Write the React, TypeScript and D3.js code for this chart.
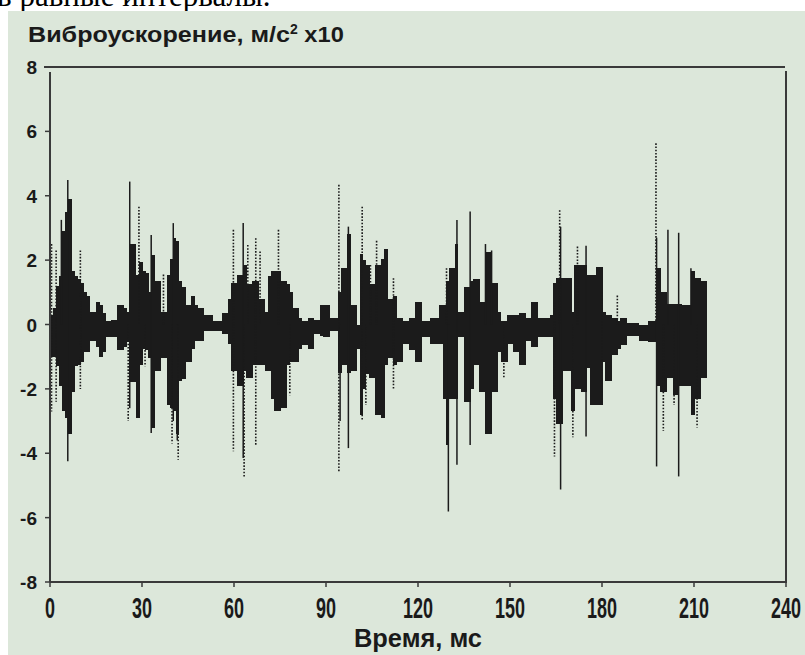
import React from "react";
import * as d3 from "d3";

const caption = "в равные интервалы.";
const yTitle = "Виброускорение, м/с";
const xTitle = "Время, мс";
const xTicks = [0, 30, 60, 90, 120, 150, 180, 210, 240];
const yTicks = [8, 6, 4, 2, 0, -2, -4, -6, -8];

// dense part of the signal, one entry per ms (upper / lower edge)
const coreHi = [
  0.3, 0.5, 1.2, 1.5, 2.9, 3.5, 3.9, 1.65, 1.5, 1.4,
  1.3, 1.0, 0.9, 0.4, 0.4, 0.7, 0.6, 0.35, 0.1, 0.1,
  0.15, 0.15, 0.6, 0.6, 0.5, 0.4, 2.5, 2.5, 1.55, 1.95,
  1.65, 1.6, 1.0, 2.15, 1.35, 1.35, 0.4, 0.4, 1.55, 2.05,
  2.7, 2.6, 1.35, 1.15, 0.6, 0.6, 0.9, 0.6, 0.5, 0.5,
  0.3, 0.3, 0.3, 0.1, 0.1, 0.1, 0.35, 0.35, 0.8, 1.3,
  1.3, 1.55, 1.55, 1.85, 1.25, 1.25, 1.35, 1.35, 0.8, 0.8,
  0.4, 1.5, 1.65, 1.65, 1.65, 1.35, 1.35, 1.25, 1.0, 0.5,
  0.5, 0.2, 0.1, 0.1, 0.2, 0.2, 0.15, 0.15, 0.6, 0.6,
  0.6, 0.2, 0.2, 0.2, 1.0, 1.75, 1.75, 2.8, 0.6, 0.6,
  0.0, 2.2, 2.0, 1.85, 1.25, 1.25, 1.85, 1.85, 2.05, 2.35,
  0.8, 0.8, 0.9, 0.2, 0.2, 0.1, 0.1, 0.2, 0.2, 0.7,
  0.7, 0.1, 0.1, 0.1, 0.2, 0.2, 0.2, 0.6, 0.6, 1.35,
  1.75, 1.75, 2.5, 0.4, 0.4, 1.15, 1.15, 1.35, 1.4, 1.4,
  0.7, 0.7, 2.25, 2.25, 1.3, 1.3, 0.4, 0.1, 0.1, 0.3,
  0.3, 0.3, 0.3, 0.35, 0.35, 0.2, 0.2, 0.7, 0.7, 0.2,
  0.2, 0.2, 0.2, 0.3, 1.3, 1.45, 1.45, 1.45, 1.45, 1.45,
  0.4, 1.85, 1.85, 1.85, 1.85, 1.55, 1.55, 1.55, 1.8, 1.8,
  0.4, 0.3, 0.3, 0.2, 0.2, 0.1, 0.2, 0.2, 0.05, 0.05,
  0.05, 0.05, 0.0, 0.0, 0.0, 0.1, 0.1, 0.1, 1.75, 1.0,
  1.0, 0.65, 0.65, 0.65, 0.65, 0.65, 0.6, 0.6, 0.6, 1.65,
  1.45, 1.45, 1.35, 1.35
];
const coreLo = [
  -1.0, -1.0, -1.3, -1.9, -2.7, -2.9, -3.4, -2.1, -1.3, -1.25,
  -1.15, -0.85, -0.85, -0.5, -0.5, -0.7, -1.0, -0.85, -0.4, -0.4,
  -0.4, -0.4, -0.8, -0.8, -0.7, -0.55, -1.8, -1.8, -2.9, -1.25,
  -0.75, -0.8, -1.05, -3.2, -1.45, -1.45, -1.05, -1.05, -2.5, -2.6,
  -2.7, -3.4, -1.75, -1.7, -1.15, -1.15, -0.75, -0.5, -0.5, -0.5,
  -0.2, -0.2, -0.2, -0.2, -0.2, -0.2, -0.3, -0.3, -0.6, -1.45,
  -1.45, -1.9, -1.9, -1.45, -1.65, -1.65, -1.25, -1.25, -1.25, -1.25,
  -1.45, -1.45, -2.3, -2.7, -2.7, -2.6, -2.6, -1.25, -1.15, -1.15,
  -1.15, -0.75, -0.65, -0.65, -0.75, -0.75, -0.3, -0.3, -0.35, -0.4,
  -0.4, -0.2, -0.2, -0.2, -1.5, -1.25, -1.25, -1.5, -1.45, -1.45,
  -0.75, -2.8, -2.0, -1.55, -1.65, -1.65, -2.8, -2.8, -2.9, -1.25,
  -1.05, -1.05, -1.25, -1.15, -1.15, -0.6, -0.6, -0.8, -0.8, -1.15,
  -1.15, -0.4, -0.4, -0.4, -0.6, -0.6, -0.6, -0.6, -2.3, -3.75,
  -2.3, -2.3, -2.3, -0.4, -0.4, -2.4, -2.4, -2.0, -1.25, -1.25,
  -2.1, -2.1, -3.4, -3.4, -2.1, -2.1, -0.85, -1.15, -1.15, -0.6,
  -0.6, -0.85, -0.85, -1.25, -1.25, -0.5, -0.5, -0.7, -0.7, -0.4,
  -0.4, -0.4, -0.4, -0.4, -2.3, -3.1, -3.1, -1.45, -1.45, -1.45,
  -2.7, -2.0, -2.0, -2.1, -2.1, -1.35, -2.5, -2.5, -2.5, -2.5,
  -1.15, -1.75, -1.75, -0.95, -0.95, -0.75, -0.65, -0.65, -0.35, -0.35,
  -0.35, -0.35, -0.5, -0.5, -0.5, -0.55, -0.55, -0.55, -1.9, -2.1,
  -2.1, -1.65, -1.65, -2.2, -2.2, -1.9, -1.9, -1.9, -1.9, -2.8,
  -2.3, -2.3, -1.65, -1.65
];

// single thin peaks
const solidT = [3.7, 5.8, 26, 33, 40.2, 41.5, 63, 94.6, 97.3, 129.9, 132.7, 137, 142, 144, 166.5, 174.8, 197.8, 201.5, 205, 209];
const solidHi = [3.25, 4.49, 4.44, 2.78, 3.15, 0, 3.15, 0, 3.04, 0, 3.25, 3.51, 2.5, 2.3, 3.04, 2.45, 2.7, 2.94, 2.85, 1.75];
const solidLo = [0, -4.25, -2.6, -3.37, -3.0, -3.6, -4.15, -3.0, -3.84, -5.81, -4.36, -3.74, 0, 0, -5.13, -3.48, -4.41, 0, -4.72, 0];

// dotted excursions
const dotT = [0.5, 2, 9.9, 25.5, 29, 31, 37, 39.8, 41.8, 59.8, 63.3, 64.5, 67.1, 68.5, 74.5, 78.2, 94.2, 101.8, 103, 104.5, 106.5, 112, 129.3, 148, 164.5, 166.2, 170.5, 172, 180, 185, 197.6, 200, 203.5, 211];
const dotHi = [2.5, 2.3, 2.3, 0, 3.66, 0, 1.55, 0, 0, 2.94, 0, 2.47, 2.68, 2.27, 2.94, 0, 4.34, 3.66, 0, 1.85, 2.6, 1.44, 1.75, 0, 0.7, 3.55, 0, 2.42, 1.0, 0.9, 5.63, 0, 0, 0];
const dotLo = [-2.7, -2.4, -2.0, -3.0, 0, -1.3, 0, -3.7, -4.2, -3.94, -4.77, 0, -3.74, 0, 0, -2.2, -4.57, -3.0, -2.5, 0, 0, -2.0, 0, -1.67, -4.1, 0, -3.5, 0, -2.5, 0, 0, -3.3, -2.5, -3.2];

const W = 805;
const H = 655;
const ink = "#1b1b1b";
const axisColor = "#3a3a3a";

export default function App() {
  const x = d3.scaleLinear().domain([0, 240]).range([50, 786]);
  const y = d3.scaleLinear().domain([-8, 8]).range([582, 67]);
  const bodyFont = "'Liberation Sans', Arial, sans-serif";

  return (
    <svg
      width={W}
      height={H}
      style={{ position: "absolute", left: 0, top: 0, background: "#fff" }}
    >
      <text x={-3} y={6} fontFamily="'Liberation Serif', 'Times New Roman', serif" fontSize={31} fill="#000">
        {caption}
      </text>
      <rect x={8} y={11} width={W - 8} height={H - 11} fill="#dce7da" />

      <text
        x={28}
        y={42}
        fontFamily={bodyFont}
        fontWeight="bold"
        fontSize={22}
        fill="#1a1a1a"
      >
        <tspan textLength={262} lengthAdjust="spacingAndGlyphs">{yTitle}</tspan>
        <tspan dy={-8} fontSize={14}>2</tspan>
        <tspan dy={8} textLength={46} lengthAdjust="spacingAndGlyphs"> х10</tspan>
      </text>

      {/* dense signal */}
      <g fill={ink} shapeRendering="crispEdges">
        {coreHi.map((hi, i) => (
          <rect
            key={i}
            x={x(i)}
            y={y(hi)}
            width={x(i + 1) - x(i) + 0.6}
            height={y(coreLo[i]) - y(hi)}
          />
        ))}
      </g>
      <g stroke={ink} strokeWidth={1.5}>
        {solidT.map((t, i) => (
          <line key={i} x1={x(t)} x2={x(t)} y1={y(solidHi[i])} y2={y(solidLo[i])} />
        ))}
      </g>
      <g stroke={ink} strokeWidth={1.6} strokeDasharray="1.6 1.6">
        {dotT.map((t, i) => (
          <line key={i} x1={x(t)} x2={x(t)} y1={y(dotHi[i])} y2={y(dotLo[i])} />
        ))}
      </g>

      {/* frame and axes */}
      <g stroke={axisColor} strokeWidth={2} fill="none">
        <line x1={44} x2={785} y1={y(8)} y2={y(8)} />
        <line x1={786} x2={786} y1={y(8) + 4} y2={y(-8)} />
        <line x1={x(0)} x2={x(0)} y1={y(8) + 5} y2={y(-8)} />
        <line x1={x(0)} x2={787} y1={y(-8)} y2={y(-8)} />
        {yTicks.map((v) => (
          <line key={"yt" + v} x1={x(0) - 5} x2={x(0)} y1={y(v)} y2={y(v)} strokeWidth={1.5} />
        ))}
        {xTicks.map((v) => (
          <line key={"xt" + v} x1={x(v)} x2={x(v)} y1={y(-8)} y2={y(-8) + 5} strokeWidth={1.5} />
        ))}
      </g>

      <g fontFamily={bodyFont} fontWeight="bold" fill="#1a1a1a">
        {yTicks.map((v) => (
          <text key={"yl" + v} x={37} y={y(v) + 7} fontSize={19} textAnchor="end">
            {v}
          </text>
        ))}
        {xTicks.map((v) => (
          <text
            key={"xl" + v}
            x={x(v)}
            y={618}
            fontSize={29}
            textAnchor="middle"
            textLength={String(v).length * 10}
            lengthAdjust="spacingAndGlyphs"
          >
            {v}
          </text>
        ))}
        <text
          x={(x(0) + x(240)) / 2}
          y={647}
          fontSize={25}
          textAnchor="middle"
          textLength={128}
          lengthAdjust="spacingAndGlyphs"
        >
          {xTitle}
        </text>
      </g>
    </svg>
  );
}
